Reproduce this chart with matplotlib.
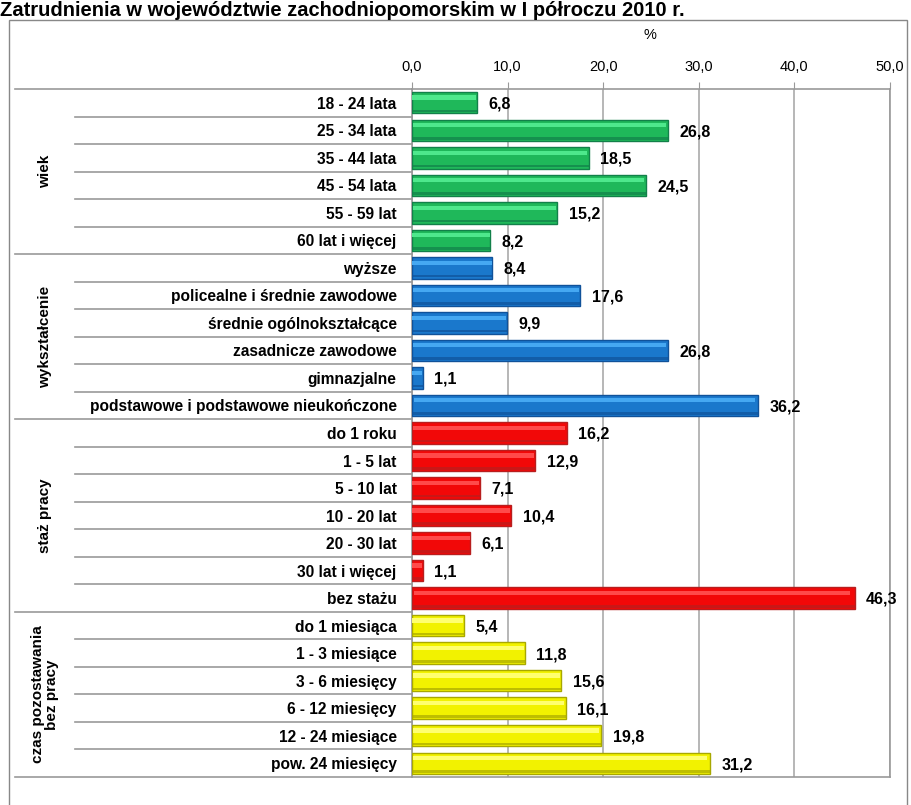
# -*- coding: utf-8 -*-
# Bar chart of unemployed by category (zachodniopomorskie, I half of 2010)
import numpy as np
import matplotlib
matplotlib.use('Agg')
import matplotlib.pyplot as plt
from matplotlib.transforms import blended_transform_factory

plt.rcParams['font.family'] = ['Liberation Sans', 'DejaVu Sans']

# -- Data
title = 'Zatrudnienia w województwie zachodniopomorskim w I półroczu 2010 r.'
groups = ['wiek', 'wykształcenie', 'staż pracy', 'czas pozostawania\nbez pracy']
labels_wiek = ['18 - 24 lata', '25 - 34 lata', '35 - 44 lata', '45 - 54 lata',
               '55 - 59 lat', '60 lat i więcej']
values_wiek = [6.8, 26.8, 18.5, 24.5, 15.2, 8.2]
labels_wyk = ['wyższe', 'policealne i średnie zawodowe', 'średnie ogólnokształcące',
              'zasadnicze zawodowe', 'gimnazjalne',
              'podstawowe i podstawowe nieukończone']
values_wyk = [8.4, 17.6, 9.9, 26.8, 1.1, 36.2]
labels_staz = ['do 1 roku', '1 - 5 lat', '5 - 10 lat', '10 - 20 lat', '20 - 30 lat',
               '30 lat i więcej', 'bez stażu']
values_staz = [16.2, 12.9, 7.1, 10.4, 6.1, 1.1, 46.3]
labels_czas = ['do 1 miesiąca', '1 - 3 miesiące', '3 - 6 miesięcy', '6 - 12 miesięcy',
               '12 - 24 miesiące', 'pow. 24 miesięcy']
values_czas = [5.4, 11.8, 15.6, 16.1, 19.8, 31.2]
xticks = [0, 10, 20, 30, 40, 50]

# -- Colours per group: (main, light, dark)
palette = [('#1fb85a', '#4ee88c', '#12804a'),
           ('#1a78cc', '#45a8f2', '#10529a'),
           ('#f20808', '#ff4a4a', '#b81e1e'),
           ('#f2f200', '#ffff70', '#a8a800')]

all_labels = [labels_wiek, labels_wyk, labels_staz, labels_czas]
all_values = [values_wiek, values_wyk, values_staz, values_czas]

W, H = 912, 805
fig = plt.figure(figsize=(W / 100, H / 100), dpi=100)
x0, x1, y0, y1 = 412, 890, 89, 777
ax = fig.add_axes([x0 / W, 1 - y1 / H, (x1 - x0) / W, (y1 - y0) / H])

# -- Outer frame and title
fig.patches.append(plt.Rectangle((9 / W, -0.01), 898 / W, 1 - 20 / H + 0.01,
                                 transform=fig.transFigure, fill=False,
                                 edgecolor='#888888', lw=1.0))
fig.text(0 / W, 1 - 1 / H, title, ha='left', va='top', fontsize=14.5,
         fontweight='bold')

n = sum(len(v) for v in all_values)
bh = 0.78
row = 0
bounds = []
for g, (labs, vals) in enumerate(zip(all_labels, all_values)):
    main, light, dark = palette[g]
    start = row
    for lab, v in zip(labs, vals):
        ax.barh(row, v, height=bh, color=main, edgecolor=dark, lw=1.0, zorder=3)
        # highlight and shadow for the 3D look
        ax.barh(row - bh * 0.24, v * 0.985, height=bh * 0.2, left=v * 0.005,
                color=light, lw=0, zorder=4)
        ax.barh(row + bh * 0.38, v, height=bh * 0.12, color=dark, lw=0, zorder=4,
                alpha=0.7)
        ax.text(v + 1.2, row + 0.05, f'{v:.1f}'.replace('.', ','), ha='left',
                va='center', fontsize=11.5, fontweight='bold', zorder=5)
        row += 1
    bounds.append((start, row - 1))

ax.set_ylim(n - 0.5, -0.5)
ax.set_xlim(0, 50)
ax.set_yticks(np.arange(n))
ax.set_yticklabels([l for labs in all_labels for l in labs], fontsize=11.2,
                   fontweight='bold')
ax.tick_params(axis='y', length=0, pad=11)
ax.xaxis.tick_top()
ax.set_xticks(xticks)
ax.set_xticklabels([f'{t:.1f}'.replace('.', ',') for t in xticks], fontsize=10.5)
ax.tick_params(axis='x', length=5, color='#999999', pad=6)
fig.text(650 / W, 1 - 35 / H, '%', ha='center', va='center', fontsize=10.5)
ax.grid(True, axis='x', color='#aaaaaa', lw=1.2, zorder=0)
for s in ax.spines.values():
    s.set_color('#999999')
    s.set_linewidth(1.2)

# -- Row separators in the label area
tr = blended_transform_factory(fig.transFigure, ax.transData)
group_starts = [b[0] for b in bounds]
for i in range(n + 1):
    y = i - 0.5
    xs = 15 / W if (i in group_starts or i == n) else 75 / W
    ax.plot([xs, x0 / W], [y, y], transform=tr, color='#999999', lw=1.2,
            clip_on=False)

# -- Group labels
for (a, b), name in zip(bounds, groups):
    ax.text(45 / W, (a + b) / 2, name, transform=tr, rotation=90, ha='center',
            va='center', fontsize=11, fontweight='bold', linespacing=1.0)

plt.savefig('out.png', dpi=100)
plt.close(fig)
